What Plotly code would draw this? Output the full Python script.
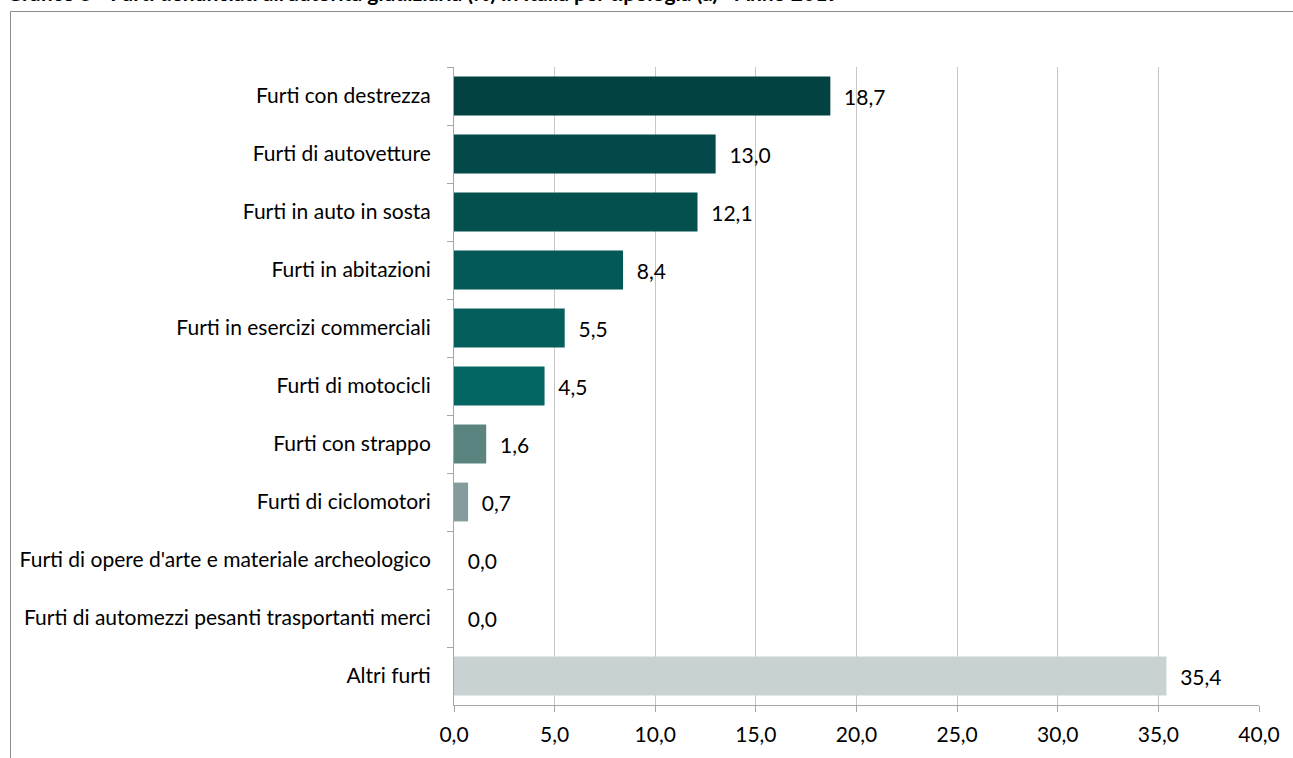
import plotly.graph_objects as go

categories = [
    "Furti con destrezza",
    "Furti di autovetture",
    "Furti in auto in sosta",
    "Furti in abitazioni",
    "Furti in esercizi commerciali",
    "Furti di motocicli",
    "Furti con strappo",
    "Furti di ciclomotori",
    "Furti di opere d'arte e materiale archeologico",
    "Furti di automezzi pesanti trasportanti merci",
    "Altri furti",
]
values = [18.7, 13.0, 12.1, 8.4, 5.5, 4.5, 1.6, 0.7, 0.0, 0.0, 35.4]
colors = ["#034241", "#03494a", "#04504f", "#045857", "#045e5c", "#046663",
          "#5b8480", "#849c9b", "#c8d2d3", "#c8d2d3", "#c8d2d3"]
x_ticks = [0, 5, 10, 15, 20, 25, 30, 35, 40]
x_tick_labels = ["0,0", "5,0", "10,0", "15,0", "20,0", "25,0", "30,0", "35,0", "40,0"]
title_text = "Grafico 5 - Furti denunciati all'autorità giudiziaria (%) in Italia per tipologia (a) - Anno 2019"

FONT = "Lato"
FS = 21
W, H = 1293, 758
ML, MR, MT, MB = 454, 34, 67, 53
PW, PH = W - ML - MR, H - MT - MB

fig = go.Figure(go.Bar(
    y=categories, x=values, orientation="h",
    marker=dict(color=colors, line=dict(width=0)),
    texttemplate="  %{x:.1f}", textposition="outside",
    textfont=dict(family=FONT, size=FS, color="#000000"),
    cliponaxis=False,
))

def px_x(p):
    return (p - ML) / PW

def px_y(p):
    return 1 - (p - MT) / PH

fig.update_layout(
    width=W, height=H,
    margin=dict(l=ML, r=MR, t=MT, b=MB, autoexpand=False),
    paper_bgcolor="white", plot_bgcolor="white",
    separators=",.",
    bargap=0.33,
    showlegend=False,
    font=dict(family=FONT, size=FS, color="#000000"),
    xaxis=dict(
        range=[0, 40], tickvals=x_ticks, ticktext=x_tick_labels,
        showgrid=True, gridcolor="#c6c6c6", gridwidth=1,
        showline=True, linecolor="#a6a6a6", linewidth=1,
        ticks="outside", ticklen=6, tickcolor="#a6a6a6",
        ticklabelstandoff=5, zeroline=False,
        tickfont=dict(family=FONT, size=FS, color="#000000"),
    ),
    yaxis=dict(
        autorange="reversed", type="category",
        showgrid=False, showline=True, linecolor="#a6a6a6", linewidth=1,
        ticks="outside", ticklen=6, tickcolor="#a6a6a6", tickson="boundaries",
        ticklabelstandoff=18,
        tickfont=dict(family=FONT, size=FS, color="#000000"),
    ),
    shapes=[dict(
        type="rect", xref="paper", yref="paper",
        x0=px_x(10.5), x1=px_x(1310), y0=px_y(11.5), y1=px_y(780),
        line=dict(color="#8c8c8c", width=1), fillcolor="rgba(0,0,0,0)",
        layer="below",
    )],
    annotations=[dict(
        text="<b>" + title_text + "</b>", xref="paper", yref="paper",
        x=px_x(5), y=px_y(-7), xanchor="left", yanchor="middle",
        showarrow=False, font=dict(family=FONT, size=FS, color="#000000"),
    )],
)

fig.write_html("out.html", config={"displayModeBar": False},
               post_script="document.body.style.margin='0';document.body.style.overflow='hidden';")
